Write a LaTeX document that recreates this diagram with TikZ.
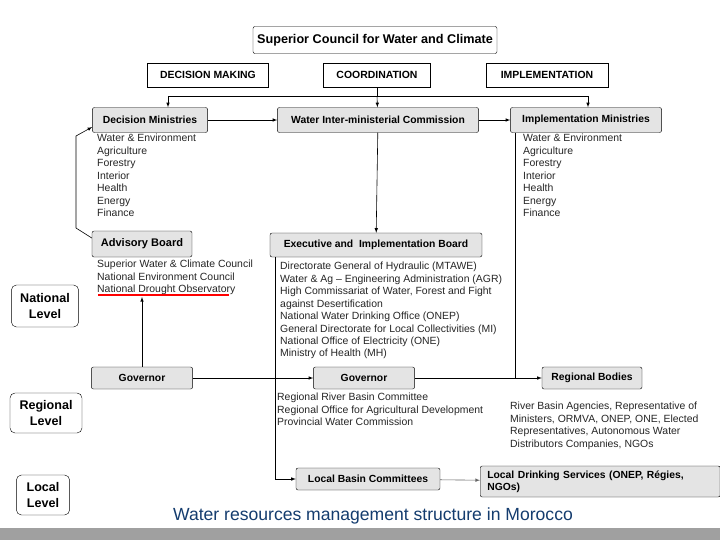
\documentclass[tikz,border=0pt]{standalone}
\usepackage{fontspec}
\setmainfont{Liberation Sans}
\usetikzlibrary{arrows, positioning}
\definecolor{boxgray}{RGB}{228, 228, 228}
\definecolor{captionblue}{RGB}{20, 60, 110}
\definecolor{bargray}{RGB}{160, 160, 160}
\tikzstyle{header} = [rectangle, draw=black, fill=white, font=\bfseries\fontsize{10.4}{12}\selectfont, inner sep=0pt]
\tikzstyle{unit} = [rectangle, rounded corners=2pt, draw=black, fill=boxgray, font=\bfseries\fontsize{10.3}{12}\selectfont, inner sep=0pt]
\tikzstyle{level} = [rectangle, rounded corners=5pt, draw=black, fill=white, align=center, font=\bfseries\fontsize{12.5}{15}\selectfont, inner sep=0pt]
\tikzstyle{members} = [anchor=north west, align=left, inner sep=0pt, font=\fontsize{10.4}{12.4}\selectfont, text=black!85]
\tikzstyle{arrow} = [->, >=latex, semithick]

\begin{document}
\begin{tikzpicture}[x=0.035cm, y=-0.035cm]
      \clip (0,0) rectangle (720,540);
      \fill[white] (0,0) rectangle (720,540);
      \fill[bargray] (0,528) rectangle (720,540);

      % top level
      \node[header, rounded corners=2pt, minimum width=8.54cm, minimum height=0.945cm, font=\bfseries\fontsize{12.6}{14}\selectfont] (council) at (375,40) {Superior Council for Water and Climate};
      \node[header, minimum width=4.24cm, minimum height=0.84cm] (decision) at (208,75) {DECISION MAKING};
      \node[header, minimum width=3.75cm, minimum height=0.84cm] (coord) at (377,75) {COORDINATION};
      \node[header, minimum width=4.27cm, minimum height=0.84cm] (implem) at (547,75) {IMPLEMENTATION};

      % national bodies
      \node[unit, minimum width=4.03cm, minimum height=0.875cm] (decmin) at (150,120) {Decision Ministries};
      \node[unit, minimum width=7.04cm, minimum height=0.875cm] (wic) at (378,120) {Water Inter-ministerial Commission};
      \node[unit, minimum width=5.29cm, minimum height=0.875cm] (impmin) at (586,120) {Implementation Ministries};
      \node[unit, minimum width=3.5cm, minimum height=0.91cm, font=\bfseries\fontsize{11}{13}\selectfont] (advisory) at (142,244) {Advisory Board};
      \node[unit, minimum width=7.42cm, minimum height=0.84cm] (exec) at (376,245) {Executive and \ Implementation Board};

      \node[members] (decminlist) at (97,134) {Water \& Environment\\Agriculture\\Forestry\\Interior\\Health\\Energy\\Finance};
      \node[members] (impminlist) at (523,134) {Water \& Environment\\Agriculture\\Forestry\\Interior\\Health\\Energy\\Finance};
      \node[members] (advlist) at (97,260) {Superior Water \& Climate Council\\National Environment Council\\National Drought Observatory};
      \node[members] (execlist) at (280,262) {Directorate General of Hydraulic (MTAWE)\\Water \& Ag -- Engineering Administration (AGR)\\High Commissariat of Water, Forest and Fight\\against Desertification\\National Water Drinking Office (ONEP)\\General Directorate for Local Collectivities (MI)\\National Office of Electricity (ONE)\\Ministry of Health (MH)};

      % regional and local bodies
      \node[unit, minimum width=3.54cm, minimum height=0.77cm] (govleft) at (142,378) {Governor};
      \node[unit, minimum width=3.54cm, minimum height=0.77cm] (govmid) at (364,378) {Governor};
      \node[unit, minimum width=3.5cm, minimum height=0.77cm] (regional) at (592,378) {Regional Bodies};
      \node[members] (govlist) at (277,393) {Regional River Basin Committee\\Regional Office for Agricultural Development\\Provincial Water Commission};
      \node[members] (regionallist) at (510,402) {River Basin Agencies, Representative of\\Ministers, ORMVA, ONEP, ONE, Elected\\Representatives, Autonomous Water\\Distributors Companies, NGOs};
      \node[unit, minimum width=5.04cm, minimum height=0.77cm] (basin) at (368,479) {Local Basin Committees};
      \node[unit, anchor=west, minimum width=8.4cm, minimum height=1.085cm, align=left, text width=7.9cm] (drinking) at (480,481.5) {Local Drinking Services (ONEP, Régies,\\NGOs)};

      % levels
      \node[level, minimum width=2.35cm, minimum height=1.47cm] (national) at (45,306) {National\\Level};
      \node[level, minimum width=2.52cm, minimum height=1.4cm] (regionlvl) at (46,413) {Regional\\Level};
      \node[level, minimum width=1.86cm, minimum height=1.4cm] (locallvl) at (43,495) {Local\\Level};

      \node[text=captionblue, font=\fontsize{17.5}{20}\selectfont] (caption) at (373,516) {Water resources management structure in Morocco};

      % connectors
      \coordinate (split) at (377,96);
      \draw[semithick] (coord) -- (split);
      \draw[arrow] (split) -| (decmin.north -| 168,0);
      \draw[arrow] (split) -- (wic);
      \draw[arrow] (split) -| (impmin.north -| 588,0);
      \draw[arrow] (decmin) -- (wic);
      \draw[arrow] (wic) -- (exec);
      \draw[arrow] (wic) -- (impmin);
      \draw[arrow] (advisory.west |- 0,238) -- (76,228) -- (76,136) -- (decmin.west |- 0,127);
      \draw[red, line width=2pt] (98,295) -- (229,295);
      \draw[arrow] (govleft.north) -- (142,297);
      \draw[arrow] (govleft) -- (govmid);
      \draw[arrow] (govmid) -- (regional);
      \draw (impmin.south -| 515,0) -- (515,378);
      \draw[arrow] (exec.south -| 275,0) |- (basin.west);
      \draw[arrow, black!60] (basin) -- (drinking);
    \end{tikzpicture}
\end{document}
